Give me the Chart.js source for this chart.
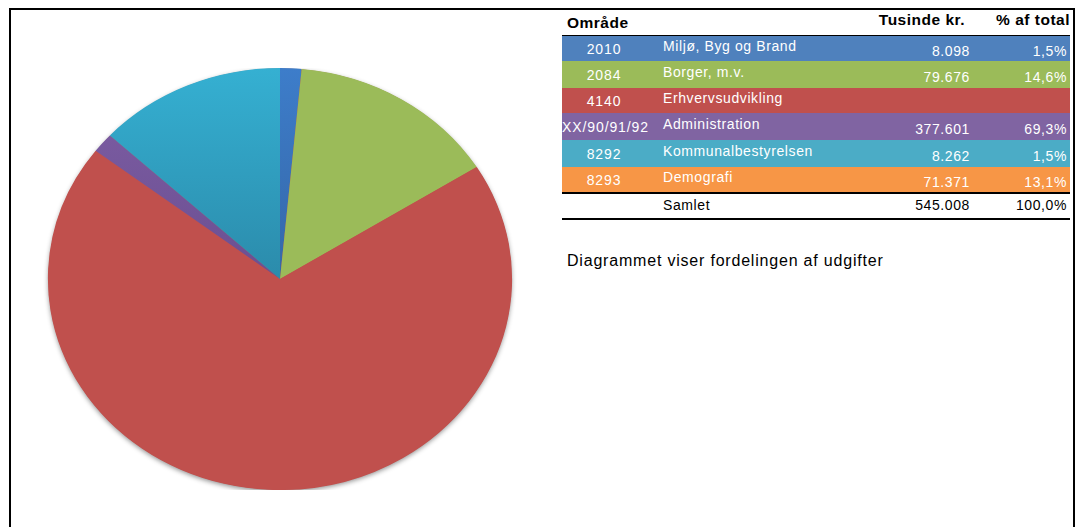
<!DOCTYPE html>
<html>
<head>
<meta charset="utf-8">
<script src="https://cdn.jsdelivr.net/npm/chart.js@4/dist/chart.umd.min.js"></script>
<style>
  html, body { margin:0; padding:0; background:#fff; width:1076px; height:527px; overflow:hidden; font-family:"Liberation Sans", Arial, sans-serif; }
  #frame { position:absolute; left:9px; top:8px; width:1062px; height:540px; border:2px solid #000; box-sizing:content-box; }
  #pieWrap { position:absolute; left:20px; top:68px; width:520px; height:422px; }
  #table { position:absolute; left:562px; top:10px; width:510px; }
  .row { position:absolute; left:0; width:508px; color:#fff; font-size:14px; letter-spacing:0.6px; }
  .cell { position:absolute; white-space:nowrap; }
  .code { letter-spacing:0.9px; }
  .hdr { font-weight:bold; color:#000; font-size:15.5px; letter-spacing:0.5px; }
  #desc { position:absolute; left:567px; top:252px; font-size:16px; color:#000; letter-spacing:0.8px; }
</style>
</head>
<body>
<div id="frame"></div>
<div id="pieWrap"><canvas id="c"></canvas></div>
<div id="table"></div>
<div id="desc">Diagrammet viser fordelingen af udgifter</div>
<script>
// ---- data ----
const codes = ["2010", "2084", "4140", "XX/90/91/92", "8292", "8293"];
const names = ["Miljø, Byg og Brand", "Borger, m.v.", "Erhvervsudvikling", "Administration", "Kommunalbestyrelsen", "Demografi"];
const amounts = ["8.098", "79.676", "", "377.601", "8.262", "71.371"];
const percents = ["1,5%", "14,6%", "", "69,3%", "1,5%", "13,1%"];
const rowColors = ["#4f81bd", "#9bbb59", "#c0504d", "#8064a2", "#4bacc6", "#f79646"];
const totalLabel = "Samlet";
const totalAmount = "545.008";
const totalPercent = "100,0%";

const pieLabels = ["Miljø, Byg og Brand", "Borger, m.v.", "Administration", "Kommunalbestyrelsen", "Demografi"];
const pieValues = [8098, 79676, 377601, 8262, 71371];
const pieColors = ["#3d7dca", "#9bbb59", "#c0504d", "#7f5fa6", "#35b0d2"];
const pieDark = ["#3567a8", "#9bbb59", "#c0504d", "#6b4f91", "#2b8bab"];

// ---- table ----
const table = document.getElementById('table');
const rowTops = [26, 51, 78, 103, 130, 157];
const rowHeights = [25, 27, 25, 27, 27, 25];
let html = '';
html += '<div class="row hdr" style="top:0;height:26px;">' +
  '<div class="cell" style="left:5px;top:4px;">Område</div>' +
  '<div class="cell" style="right:105px;top:1px;">Tusinde kr.</div>' +
  '<div class="cell" style="right:0px;top:1px;">% af total</div></div>';
for (let i = 0; i < codes.length; i++) {
  const h = rowHeights[i];
  html += '<div class="row" style="top:' + rowTops[i] + 'px;height:' + h + 'px;background:' + rowColors[i] + ';">' +
    '<div class="cell code" style="left:0;width:84px;text-align:center;top:' + (h/2 - 8) + 'px;">' + codes[i] + '</div>' +
    '<div class="cell" style="left:101px;top:' + (h/2 - 11) + 'px;">' + names[i] + '</div>' +
    '<div class="cell" style="right:100px;top:' + (h/2 - 6) + 'px;">' + amounts[i] + '</div>' +
    '<div class="cell" style="right:3px;top:' + (h/2 - 6) + 'px;">' + percents[i] + '</div></div>';
}
html += '<div class="row" style="top:182px;height:24px;color:#000;border-top:2px solid #000;border-bottom:2px solid #000;">' +
  '<div class="cell" style="left:101px;top:3px;">' + totalLabel + '</div>' +
  '<div class="cell" style="right:100px;top:3px;">' + totalAmount + '</div>' +
  '<div class="cell" style="right:3px;top:3px;">' + totalPercent + '</div></div>';
html += '<div style="position:absolute;left:0;top:25px;width:508px;height:1px;background:#000"></div>';
table.innerHTML = html;

// ---- pie ----
const SX = 1.1;
const stretchPlugin = {
  id: 'stretch',
  beforeDatasetsDraw(chart) {
    const ctx = chart.ctx;
    const meta = chart.getDatasetMeta(0);
    const arc = meta.data[0];
    const cx = arc.x, cy = arc.y, r = arc.outerRadius;
    ctx.save();
    ctx.translate(cx, cy);
    ctx.scale(SX, 1);
    ctx.translate(-cx, -cy);
    ctx.save();
    ctx.shadowColor = 'rgba(0,0,0,0.45)';
    ctx.shadowBlur = 5;
    ctx.shadowOffsetY = 2;
    ctx.beginPath();
    ctx.arc(cx, cy, r - 0.5, 0, Math.PI * 2);
    ctx.fillStyle = '#c0504d';
    ctx.fill();
    ctx.restore();
  },
  afterDatasetsDraw(chart) {
    chart.ctx.restore();
  }
};

function sliceColor(context) {
  const i = context.dataIndex;
  const chart = context.chart;
  const area = chart.chartArea;
  if (!area) return pieColors[i];
  if (pieColors[i] === pieDark[i]) return pieColors[i];
  const cy = (area.top + area.bottom) / 2;
  const g = chart.ctx.createLinearGradient(0, area.top, 0, cy);
  g.addColorStop(0, pieColors[i]);
  g.addColorStop(1, pieDark[i]);
  return g;
}

new Chart(document.getElementById('c'), {
  type: 'pie',
  data: {
    labels: pieLabels,
    datasets: [{
      data: pieValues,
      backgroundColor: sliceColor,
      borderWidth: 0
    }]
  },
  options: {
    responsive: true,
    maintainAspectRatio: false,
    animation: false,
    layout: { padding: 0 },
    plugins: { legend: { display: false }, tooltip: { enabled: false } }
  },
  plugins: [stretchPlugin]
});
</script>
</body>
</html>
